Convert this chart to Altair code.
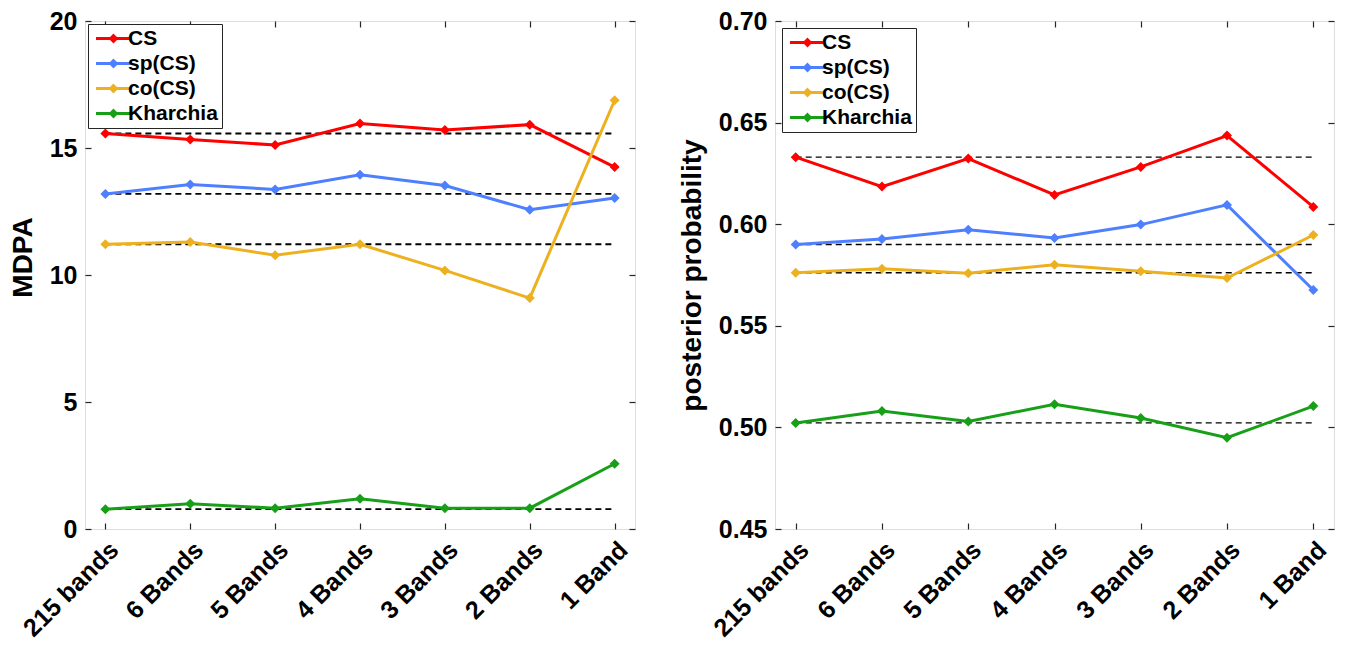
import altair as alt
import pandas as pd

categories = ["215 bands", "6 Bands", "5 Bands", "4 Bands", "3 Bands", "2 Bands", "1 Band"]
series_names = ["CS", "sp(CS)", "co(CS)", "Kharchia"]
series_colors = ["#FF0000", "#4D7FFF", "#EDB120", "#17A017"]

# left panel: MDPA
mdpa_cs = [15.57, 15.33, 15.12, 15.96, 15.71, 15.92, 14.25]
mdpa_sp = [13.19, 13.56, 13.37, 13.95, 13.52, 12.57, 13.03]
mdpa_co = [11.21, 11.30, 10.78, 11.21, 10.18, 9.09, 16.88]
mdpa_kh = [0.78, 0.99, 0.82, 1.19, 0.82, 0.82, 2.57]
mdpa_ticks = [0, 5, 10, 15, 20]

# right panel: posterior probability
post_cs = [0.6330, 0.6185, 0.6323, 0.6144, 0.6282, 0.6436, 0.6085]
post_sp = [0.5900, 0.5927, 0.5973, 0.5932, 0.5998, 0.6095, 0.5676]
post_co = [0.5761, 0.5781, 0.5759, 0.5801, 0.5769, 0.5735, 0.5947]
post_kh = [0.5022, 0.5081, 0.5029, 0.5114, 0.5046, 0.4949, 0.5105]
post_ticks = [0.45, 0.50, 0.55, 0.60, 0.65, 0.70]

FONT = "Liberation Sans"
FRAME = "#262626"
LEGEND_PATH = "M-2.5,0L2.5,0M0,-0.4L0.4,0L0,0.4L-0.4,0Z"


def long_df(series_lists):
    rows = []
    for name, vals in zip(series_names, series_lists):
        for c, v in zip(categories, vals):
            rows.append({"category": c, "series": name, "value": v})
    return pd.DataFrame(rows)


def base_df(series_lists):
    rows = []
    for name, vals in zip(series_names, series_lists):
        for c in (categories[0], categories[-1]):
            rows.append({"category": c, "series": name, "value": vals[0]})
    return pd.DataFrame(rows)


def panel(series_lists, ytitle, domain, ticks, fmt, width, height, legend_offset,
          dash_width, title_y):
    df = long_df(series_lists)
    dfb = base_df(series_lists)
    xscale = alt.Scale(type="point", padding=0.24)
    yscale = alt.Scale(domain=domain, nice=False, zero=False)
    color_scale = alt.Scale(domain=series_names, range=series_colors)

    tick_axis = dict(labels=False, domain=False, ticks=True, tickSize=6,
                     tickColor=FRAME, tickWidth=1.2, grid=False, title=None, offset=-6)

    dashed = alt.Chart(dfb).mark_line(color="black", strokeDash=[6, 4], strokeWidth=dash_width).encode(
        x=alt.X("category:N", sort=categories, scale=xscale,
                axis=alt.Axis(orient="bottom", labelAngle=-45, labelAlign="right",
                              labelBaseline="top", labelFontSize=25, labelFont=FONT,
                              labelFontWeight="bold", labelColor="black", labelPadding=8,
                              ticks=False, domain=False, grid=False, title=None)),
        y=alt.Y("value:Q", scale=yscale,
                axis=alt.Axis(orient="left", values=ticks, format=fmt, labelFontSize=25,
                              labelFont=FONT, labelFontWeight="bold", labelColor="black",
                              labelPadding=8, ticks=False, domain=False, grid=False,
                              title=ytitle, titleFontSize=28, titleFont=FONT,
                              titleFontWeight="bold", titleColor="black", titlePadding=12,
                              titleY=title_y)),
        detail="series:N",
    )

    lines = alt.Chart(df).mark_line(strokeWidth=3).encode(
        x=alt.X("category:N", sort=categories, scale=xscale,
                axis=alt.Axis(orient="top", **tick_axis)),
        y=alt.Y("value:Q", scale=yscale,
                axis=alt.Axis(orient="right", values=ticks, **tick_axis)),
        color=alt.Color("series:N", sort=series_names, scale=color_scale,
                        legend=alt.Legend(title=None, orient="top-left", offset=legend_offset,
                                          symbolType=LEGEND_PATH, symbolSize=196,
                                          symbolStrokeWidth=3, symbolOffset=11,
                                          labelOffset=4, labelFontSize=21, labelFont=FONT,
                                          labelFontWeight="bold", labelColor="black",
                                          rowPadding=3, padding=4, strokeColor=FRAME,
                                          fillColor="white", cornerRadius=0,
                                          labelLimit=300)),
    )

    points = alt.Chart(df).mark_point(shape="diamond", filled=True, size=100, opacity=1).encode(
        x=alt.X("category:N", sort=categories, scale=xscale,
                axis=alt.Axis(orient="bottom", **tick_axis)),
        y=alt.Y("value:Q", scale=yscale,
                axis=alt.Axis(orient="left", values=ticks, **tick_axis)),
        color=alt.Color("series:N", sort=series_names, scale=color_scale, legend=None),
    )

    return alt.layer(dashed, lines, points).resolve_axis(x="independent", y="independent").properties(
        width=width, height=height)


left = panel([mdpa_cs, mdpa_sp, mdpa_co, mdpa_kh], "MDPA", [0, 20], mdpa_ticks, "d",
             550, 508, 3, 1.8, 236)
right = panel([post_cs, post_sp, post_co, post_kh], "posterior probability", [0.45, 0.70],
              post_ticks, ".2f", 559, 508, 7, 1.3, 254)

chart = alt.hconcat(left, right, spacing=40).resolve_legend(color="independent").properties(
    padding={"left": 0, "top": 0, "right": 0, "bottom": 0}
).configure_view(stroke=FRAME, strokeWidth=1.2).configure(background="white")

chart.save("out.html", embed_options={"renderer": "svg", "actions": False})
